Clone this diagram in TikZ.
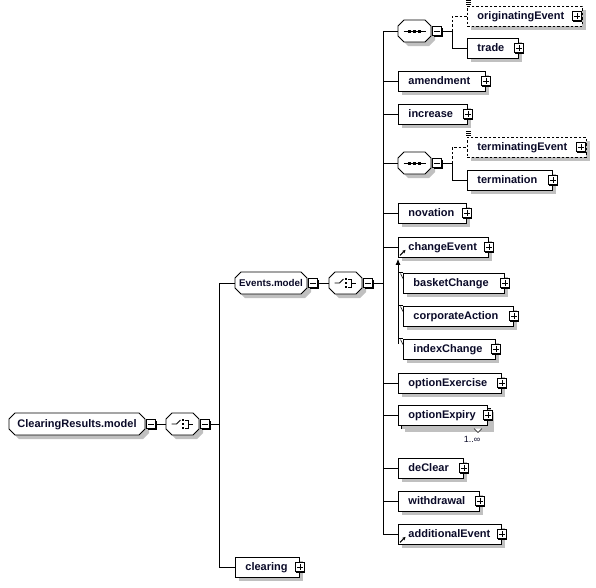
\documentclass[tikz,border=0pt]{standalone}
\usepackage{fontspec}
\setmainfont{Liberation Sans}
\usetikzlibrary{shadows,arrows.meta}
\definecolor{shgray}{RGB}{192,192,192}
\definecolor{txt}{RGB}{10,10,40}
\tikzset{
  x=1pt,y=-1pt,
  base/.style={draw=black, line width=0.9pt, fill=white,
    general shadow={fill=shgray, shadow xshift=4pt, shadow yshift=-4pt}},
  lbl/.style={text=txt, font=\fontsize{11}{13}\bfseries\selectfont},
  elem/.style={base, lbl, rectangle, minimum height=20pt, inner xsep=0pt, inner ysep=0pt,
    align=left, text height=8.5pt, text depth=2.5pt},
  optelem/.style={elem, dashed, dash pattern=on 2.5pt off 2pt},
  octline/.style={draw=black, line width=0.9pt, fill=white},
  octshadow/.style={fill=shgray},
  octnode/.style={lbl, rectangle, minimum height=22pt, inner sep=0pt,
    text height=8.5pt, text depth=2.5pt},
  pm/.style={rectangle, draw=black, line width=0.8pt, fill=white, minimum size=9pt,
    inner sep=0pt, general shadow={fill=black, shadow xshift=1pt, shadow yshift=-1pt}},
  plusbox/.style={pm, path picture={
    \draw[line width=0.8pt] ([xshift=1.5pt]path picture bounding box.west) -- ([xshift=-1.5pt]path picture bounding box.east);
    \draw[line width=0.8pt] ([yshift=-1.5pt]path picture bounding box.north) -- ([yshift=1.5pt]path picture bounding box.south);}},
  minusbox/.style={pm, path picture={
    \draw[line width=0.8pt] ([xshift=1.5pt]path picture bounding box.west) -- ([xshift=-1.5pt]path picture bounding box.east);}},
  conn/.style={draw=black, line width=0.8pt},
  optconn/.style={conn, dash pattern=on 2.5pt off 2pt},
  icon/.style={line width=0.9pt},
  refarrow/.style={line width=1.1pt, -{Stealth[length=3.2pt,width=3.4pt]}},
}
% octagon outline: left, cy, width
\def\octpath#1#2#3{({#1+6},{#2-11}) -- ({#1+#3-6},{#2-11}) -- ({#1+#3},{#2-5}) -- ({#1+#3},{#2+5}) -- ({#1+#3-6},{#2+11}) -- ({#1+6},{#2+11}) -- (#1,{#2+5}) -- (#1,{#2-5}) -- cycle}
% octagon node: [extra style] name, left, cy, width, text
\newcommand\octnode[6][]{%
  \path[octshadow, shift={(4,4)}] \octpath{#3}{#4}{#5};
  \path[octline] \octpath{#3}{#4}{#5};
  \node[octnode, minimum width=#5pt, #1] (#2) at ({#3+#5/2},#4) {#6};
  \node[minusbox, anchor=west] (#2-m) at ([xshift=1pt]#2.east) {};
}
% element: [style] name, left, cy, width, text
\newcommand\elembox[6][elem]{%
  \node[#1, anchor=west, text width=#5pt] (#2) at (#3,#4) {\hspace*{10pt}#6};
  \node[plusbox] (#2-p) at (#2.east) {};
}
\newcommand\optbox[5]{%
  \node[optelem, anchor=west, text width=#4pt] (#1) at (#2,#3) {\hspace*{10pt}#5};
  \node[plusbox] (#1-p) at ([xshift=-6pt]#1.east) {};
  \draw[line width=0.6pt] ([xshift=-1pt,yshift=5pt]#1.north west) -- ++(5,0);
  \draw[line width=0.6pt] ([xshift=-1pt,yshift=3pt]#1.north west) -- ++(5,0);
  \draw[line width=0.6pt] ([xshift=-1pt,yshift=1pt]#1.north west) -- ++(5,0);
}
\newcommand\seqicon[1]{%
  \draw[icon] ([xshift=-11pt]#1.center) -- ([xshift=11pt]#1.center);
  \fill ([xshift=-6.5pt,yshift=1.5pt]#1.center) rectangle ++(3,3);
  \fill ([xshift=-1.5pt,yshift=1.5pt]#1.center) rectangle ++(3,3);
  \fill ([xshift=3.5pt,yshift=1.5pt]#1.center) rectangle ++(3,3);
}
\newcommand\choiceicon[1]{%
  \draw[icon] ([xshift=-11pt]#1.center) -- ([xshift=-6pt]#1.center) -- ([xshift=-2pt,yshift=4pt]#1.center);
  \fill ([xshift=-0.5pt,yshift=5pt]#1.center) rectangle ++(2,2);
  \fill ([xshift=-0.5pt,yshift=1pt]#1.center) rectangle ++(2,2);
  \fill ([xshift=-0.5pt,yshift=-3pt]#1.center) rectangle ++(2,2);
  \draw[icon] ([xshift=2.5pt,yshift=4pt]#1.center) -- ([xshift=6pt,yshift=4pt]#1.center) -- ([xshift=6pt,yshift=-4pt]#1.center) -- ([xshift=2.5pt,yshift=-4pt]#1.center);
  \draw[icon] ([xshift=6pt]#1.center) -- ([xshift=10pt]#1.center);
}
\begin{document}
\begin{tikzpicture}
\useasboundingbox[fill=white] (0,0) rectangle (596,587);

% ---- left part ----
\octnode{cr}{9}{424}{136}{ClearingResults.model}
\octnode{c1}{166}{424}{33}{}
\choiceicon{c1}
\coordinate (j1) at (219,424);

\octnode[font=\fontsize{9.8}{12}\bfseries\selectfont]{ev}{235}{283}{72}{Events.model}
\octnode{c2}{329}{283}{33}{}
\choiceicon{c2}
\coordinate (j2) at (383,283);

\elembox{clr}{235}{567}{64}{clearing}

\draw[conn] (cr-m.east) -- (c1.west);
\draw[conn] (c1-m.east) -- (j1);
\draw[conn] (j1) |- (ev.west);
\draw[conn] (j1) |- (clr.west);
\draw[conn] (ev-m.east) -- (c2.west);
\draw[conn] (c2-m.east) -- (j2);

% ---- sequence A ----
\octnode{cA}{398}{31}{33}{}
\seqicon{cA}
\coordinate (j3) at (452,31);
\optbox{orig}{467}{16}{115}{originatingEvent}
\elembox{trade}{467}{48}{51}{trade}
\draw[conn] (cA-m.east) -- (j3);
\draw[optconn] (j3) |- (orig.west);
\draw[conn] (j3) |- (trade.west);

\elembox{amend}{398}{81}{87}{amendment}
\elembox{incr}{398}{114}{69}{increase}

% ---- sequence B ----
\octnode{cB}{398}{163}{33}{}
\seqicon{cB}
\coordinate (j4) at (452,163);
\optbox{termev}{467}{147}{119}{terminatingEvent}
\elembox{term}{467}{180}{85}{termination}
\draw[conn] (cB-m.east) -- (j4);
\draw[optconn] (j4) |- (termev.west);
\draw[conn] (j4) |- (term.west);

\elembox{nov}{398}{213}{68}{novation}

% ---- changeEvent and its substitution group ----
\elembox{chg}{398}{247}{90}{changeEvent}
\draw[refarrow] ([xshift=2pt,yshift=2pt]chg.south west) -- ++(5.5,-5.5);
\elembox{bask}{403}{283}{101}{basketChange}
\elembox{corp}{403}{316}{110}{corporateAction}
\elembox{idx}{403}{349}{92}{indexChange}
\coordinate (sv) at ([yshift=-5pt]idx.north west -| chg.south west);
\draw[conn, -{Latex[length=6pt,width=5pt]}] (sv) -- ([yshift=-1.5pt]chg.south west);
\foreach \s in {bask,corp,idx}{
  \draw[conn] (\s.north west -| sv) -- (\s.north west);
  \draw[line width=0.5pt] ([xshift=-2.5pt,yshift=-1pt]\s.north west) -- ([yshift=-6pt]\s.north west);
}

\elembox{oex}{398}{383}{103}{optionExercise}

% optionExpiry (repeating)
\node[elem, anchor=west, text width=89pt] (oexp-b) at (401,418) {};
\node[elem, anchor=west, text width=89pt, general shadow={fill=none}] (oexp) at (398,415) {\hspace*{10pt}optionExpiry};
\node[plusbox] (oexp-p) at (oexp.east) {};
\draw[line width=0.6pt, fill=white] (474,428.5) -- (478,432.5) -- (482,428.5);
\node[font=\fontsize{9}{10}\selectfont, text=txt, inner sep=0pt] (card) at (472,439) {1..∞};

\elembox{decl}{398}{468}{65}{deClear}
\elembox{wdr}{398}{501}{81}{withdrawal}
\elembox{add}{398}{534}{103}{additionalEvent}
\draw[refarrow] ([xshift=2pt,yshift=2pt]add.south west) -- ++(5.5,-5.5);

% ---- connectors from the second compositor ----
\foreach \c in {cA,amend,incr,cB,nov,chg,oex,oexp,decl,wdr,add}{
  \draw[conn] (j2) |- (\c.west);
}
\end{tikzpicture}
\end{document}
